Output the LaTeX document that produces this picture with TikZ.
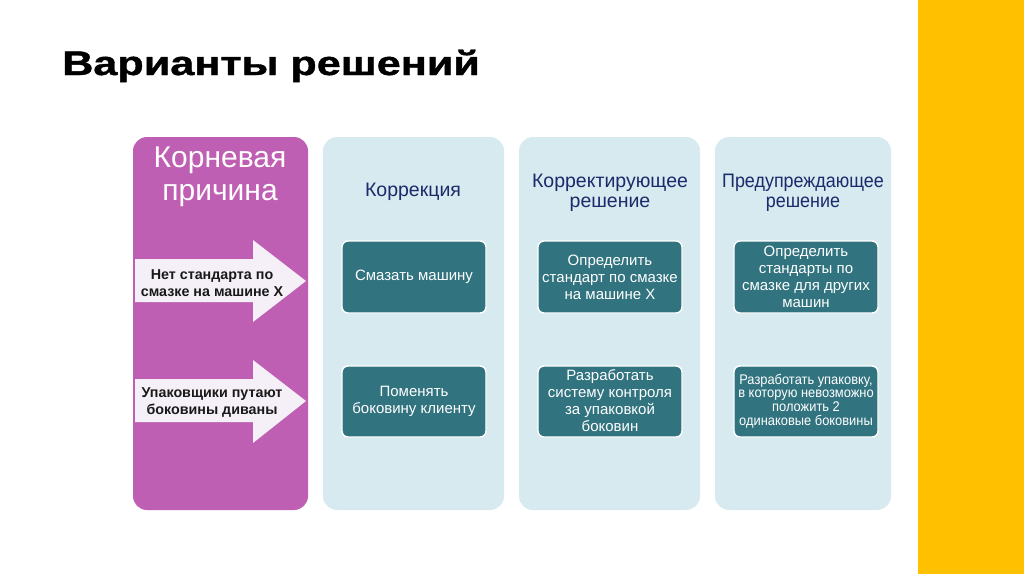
\documentclass[tikz,border=0pt]{standalone}
\usepackage{fontspec}
\setmainfont{Liberation Sans}
\newfontfamily\titlefont[FakeStretch=1.27, FakeBold=1.2]{Liberation Sans Bold}
\newfontfamily\narrowfont[FakeStretch=0.92]{Liberation Sans}
\definecolor{purp}{HTML}{BF5FB3}
\definecolor{panel}{HTML}{D6EAEF}
\definecolor{teal}{HTML}{31737F}
\definecolor{navy}{HTML}{1B2A6B}
\definecolor{arrowfill}{HTML}{F5F0F7}
\definecolor{yel}{HTML}{FFC000}
\tikzset{
  panelbox/.style={fill=panel, draw=none, rounded corners=14pt},
  darkbox/.style={fill=teal, draw=white, line width=1.4pt, rounded corners=6pt},
  boxtext/.style={text=white, align=center, font=\fontsize{15}{17}\selectfont},
  headtext/.style={text=navy, align=center, font=\fontsize{19.5}{20.5}\selectfont},
  arrowtext/.style={text=black!90, align=center, font=\bfseries\fontsize{14.3}{17}\selectfont},
  arrowshape/.style={fill=arrowfill, draw=none}
}
\begin{document}
\begin{tikzpicture}[x=1pt,y=-1pt]
\useasboundingbox (0,0) rectangle (1024,574);
\fill[white] (0,0) rectangle (1024,574);
\fill[yel] (918,0) rectangle (1024,574);
\node[anchor=base west, font=\titlefont\fontsize{34}{40}\selectfont, inner sep=0] (title) at (62,75) {Варианты решений};
% columns
\fill[purp, rounded corners=14pt] (133,137) rectangle (308,510);
\node[text=white, align=center, font=\fontsize{30}{32.5}\selectfont] (root) at (220,177) {Корневая\\причина};
\fill[panelbox] (323,137) rectangle (504,510);
\fill[panelbox] (519,137) rectangle (700,510);
\fill[panelbox] (715,137) rectangle (891,510);
\node[headtext] (h1) at (413,192) {Коррекция};
\node[headtext] (h2) at (610,193) {Корректирующее\\решение};
\node[headtext, font=\narrowfont\fontsize{19.5}{20.5}\selectfont] (h3) at (803,193) {Предупреждающее\\решение};
% arrows
\fill[arrowshape] (135,259) -- (253,259) -- (253,240) -- (306,281) -- (253,322) -- (253,302) -- (135,302) -- cycle;
\node[arrowtext] (a1) at (212,283) {Нет стандарта по\\смазке на машине Х};
\fill[arrowshape] (135,379) -- (253,379) -- (253,360) -- (306,401) -- (253,443) -- (253,422) -- (135,422) -- cycle;
\node[arrowtext] (a2) at (212,402) {Упаковщики путают\\боковины диваны};
% dark boxes
\draw[darkbox] (342,241) rectangle (486,313);
\node[boxtext] (b11) at (414,277) {Смазать машину};
\draw[darkbox] (538,241) rectangle (682,313);
\node[boxtext] (b12) at (610,277) {Определить\\стандарт по смазке\\на машине Х};
\draw[darkbox] (734,241) rectangle (878,313);
\node[boxtext] (b13) at (806,277) {Определить\\стандарты по\\смазке для других\\машин};
\draw[darkbox] (342,366) rectangle (486,437);
\node[boxtext] (b21) at (414,401) {Поменять\\боковину клиенту};
\draw[darkbox] (538,366) rectangle (682,437);
\node[boxtext] (b22) at (610,401) {Разработать\\систему контроля\\за упаковкой\\боковин};
\draw[darkbox] (734,366) rectangle (878,437);
\node[boxtext, font=\narrowfont\fontsize{14}{13.8}\selectfont] (b23) at (806,401) {Разработать упаковку,\\в которую невозможно\\положить 2\\одинаковые боковины};
\end{tikzpicture}
\end{document}
